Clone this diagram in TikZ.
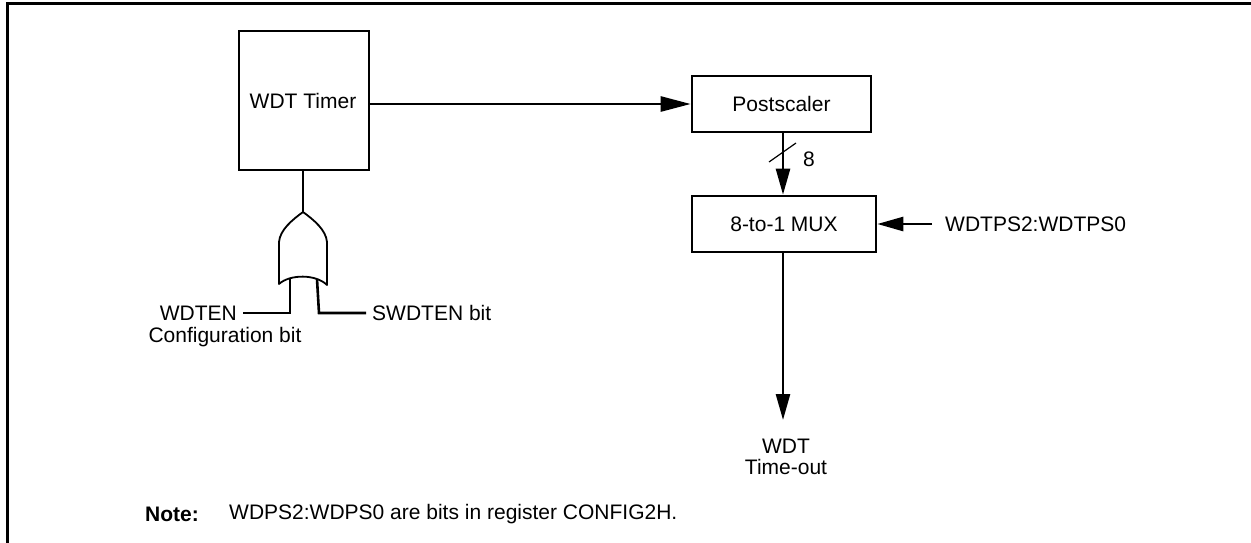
\documentclass[tikz,border=0pt]{standalone}
\usepackage{fontspec}
\setmainfont{Liberation Sans}
\usetikzlibrary{arrows.meta}
\begin{document}
\begin{tikzpicture}[x=1pt,y=-1pt,
  txt/.style={inner sep=0pt,font=\fontsize{21}{21}\selectfont},
  blk/.style={draw,line width=2.6pt,inner sep=0pt,font=\fontsize{21}{21}\selectfont},
  wire/.style={line width=2.6pt},
  arr/.style={line width=2.6pt,-{Triangle[length=26pt,width=14pt]}},
  gate/.style={line width=1.8pt,line join=round}]
\useasboundingbox (0,0) rectangle (1251,542);
% frame (top and left edges)
\draw[line width=3pt] (7,560) -- (7,3) -- (1270,3);
% blocks
\node[blk,minimum width=130pt,minimum height=139pt] (timer) at (304,100.5) {};
\node[txt] (timertxt) at (303,101) {WDT Timer};
\node[blk,minimum width=179pt,minimum height=56pt] (post) at (781.5,104) {Postscaler};
\node[blk,minimum width=184pt,minimum height=56pt] (mux) at (784,224) {8-to-1 MUX};
% OR gate
\coordinate (gout) at (303,212);
\coordinate (gin1) at (290,279);
\coordinate (gin2) at (317,279);
\draw[gate,fill=white] (gout) .. controls (292,220) and (280,230) .. (279,242)
  -- (279,284) .. controls (290,274) and (316,274) .. (327,285)
  -- (327,242) .. controls (326,230) and (314,220) .. (gout) -- cycle;
\draw[wire] (timer.south -| gout) -- (gout);
% inputs
\node[txt,anchor=east] (wdten) at (237,313) {WDTEN};
\node[txt] (cfg) at (225,337) {Configuration bit};
\node[txt,anchor=west] (swdten) at (372,313) {SWDTEN bit};
\draw[wire] (gin1) -- (290,313) -- ([xshift=6pt]wdten.east |- 0,313);
\draw[wire] (gin2) -- (319,313) -- ([xshift=-6pt]swdten.west |- 0,313);
% timer -> postscaler
\draw[arr,-{Triangle[length=30pt,width=15pt]}] (timer.east |- post.west) -- (post.west);
% postscaler -> mux
\draw[arr] (post.south -| 783,0) -- (mux.north -| 783,0);
\draw[line width=1.2pt] (769,162) -- (796,143);
\node[txt] (eight) at (809,159) {8};
% select input
\node[txt,anchor=west] (sel) at (945,224) {WDTPS2:WDTPS0};
\draw[arr] ([xshift=-13pt]sel.west) -- (mux.east);
% output
\node[txt,align=center] (out) at (786,457) {WDT\\Time-out};
\draw[arr] (mux.south -| 783,0) -- (783,420);
% note
\node[txt,anchor=west,font=\fontsize{21}{21}\selectfont\bfseries] (notelbl) at (145,514) {Note:};
\node[txt,anchor=west] (notetxt) at (229,514) {WDPS2:WDPS0 are bits in register CONFIG2H.};
\end{tikzpicture}
\end{document}
